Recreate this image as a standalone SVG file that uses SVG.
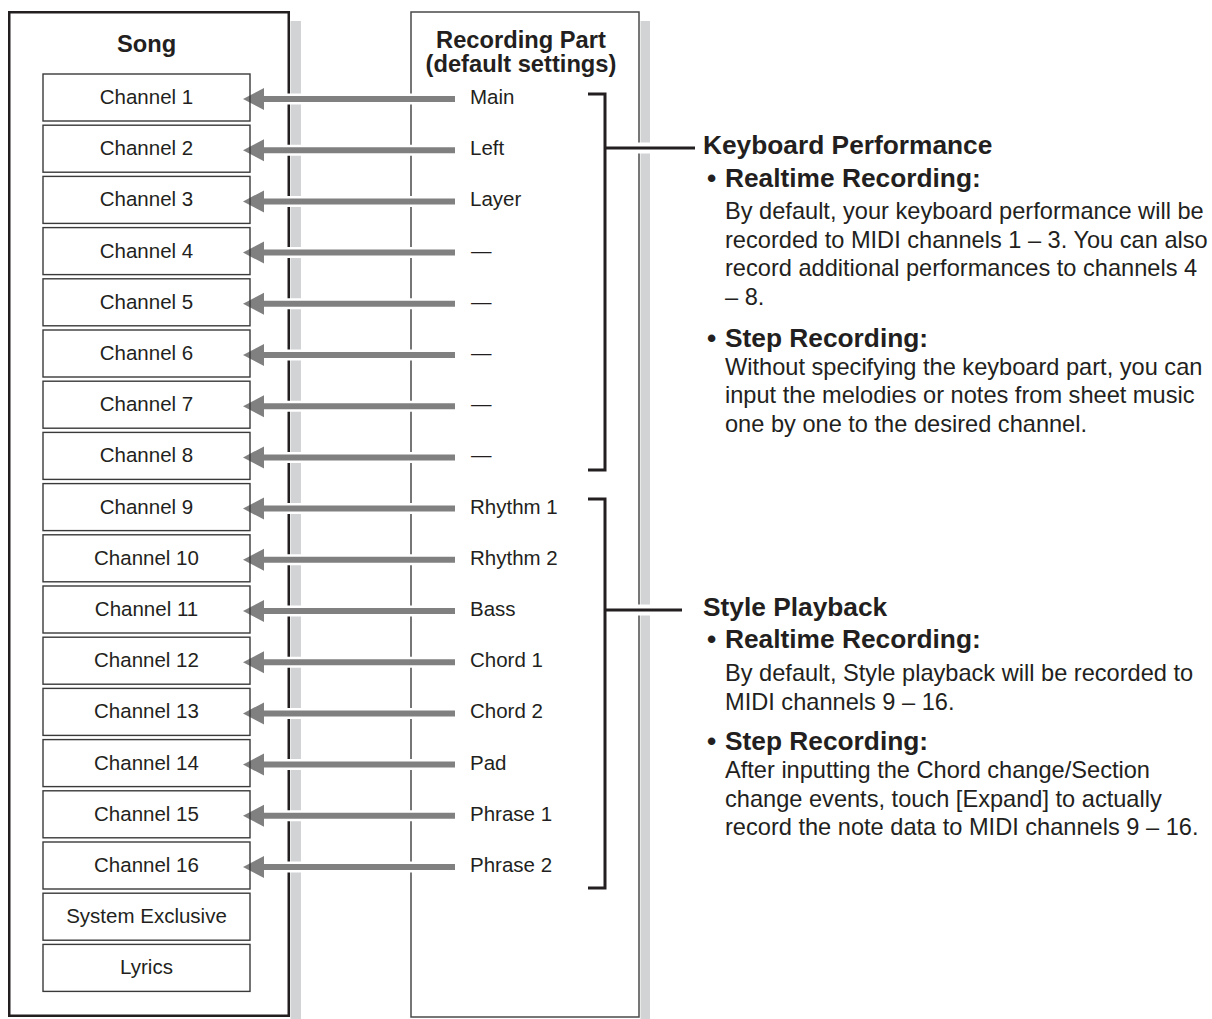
<svg xmlns="http://www.w3.org/2000/svg" width="1212" height="1019" viewBox="0 0 1212 1019">
<style>
.t{font-family:"Liberation Sans",Arial,Helvetica,sans-serif;fill:#231f20}
.ch{font-size:20.5px;text-anchor:middle}
.lbl{font-size:20.5px}
.title{font-size:23.7px;font-weight:bold;text-anchor:middle}
.head{font-size:26.3px;font-weight:bold}
.body{font-size:23.6px}
.cb{fill:none;stroke:#3a3a3a;stroke-width:1.4}
.halo{stroke:#fff;stroke-width:11}
.shaft{stroke:#808080;stroke-width:6}
.head-a{fill:#808080}
.br{fill:none;stroke:#231f20;stroke-width:3}
.shadow{fill:#d1d3d4}
</style>
<rect width="1212" height="1019" fill="#fff"/>
<g id="song">
<rect class="shadow" x="290.5" y="21" width="10.5" height="998"/>
<rect x="9.25" y="12.25" width="279.5" height="1003.5" fill="#fff" stroke="#231f20" stroke-width="2.5"/>
<text class="t title" x="146.5" y="52">Song</text>
</g>
<g id="recording-part">
<rect class="shadow" x="640.5" y="21" width="9.5" height="998"/>
<rect x="411" y="12" width="228" height="1005" fill="#fff" stroke="#4a4a4a" stroke-width="1.5"/>
<text class="t title" x="521" y="48">Recording Part</text>
<text class="t title" x="521" y="72">(default settings)</text>
</g>
<g id="connectors">
<g id="halos">
<line class="halo" x1="266" y1="99" x2="455" y2="99"/>
<line class="halo" x1="266" y1="150.2" x2="455" y2="150.2"/>
<line class="halo" x1="266" y1="201.4" x2="455" y2="201.4"/>
<line class="halo" x1="266" y1="252.6" x2="455" y2="252.6"/>
<line class="halo" x1="266" y1="303.8" x2="455" y2="303.8"/>
<line class="halo" x1="266" y1="355" x2="455" y2="355"/>
<line class="halo" x1="266" y1="406.2" x2="455" y2="406.2"/>
<line class="halo" x1="266" y1="457.4" x2="455" y2="457.4"/>
<line class="halo" x1="266" y1="508.6" x2="455" y2="508.6"/>
<line class="halo" x1="266" y1="559.8" x2="455" y2="559.8"/>
<line class="halo" x1="266" y1="611" x2="455" y2="611"/>
<line class="halo" x1="266" y1="662.2" x2="455" y2="662.2"/>
<line class="halo" x1="266" y1="713.4" x2="455" y2="713.4"/>
<line class="halo" x1="266" y1="764.6" x2="455" y2="764.6"/>
<line class="halo" x1="266" y1="815.8" x2="455" y2="815.8"/>
<line class="halo" x1="266" y1="867" x2="455" y2="867"/>
<line class="halo" x1="615" y1="148" x2="685" y2="148"/>
<line class="halo" x1="615" y1="610" x2="675" y2="610"/>
</g>
<g id="arrows">
<line class="shaft" x1="260" y1="99" x2="455" y2="99"/><polygon class="head-a" points="243,99 264,88 264,110"/>
<line class="shaft" x1="260" y1="150.2" x2="455" y2="150.2"/><polygon class="head-a" points="243,150.2 264,139.2 264,161.2"/>
<line class="shaft" x1="260" y1="201.4" x2="455" y2="201.4"/><polygon class="head-a" points="243,201.4 264,190.4 264,212.4"/>
<line class="shaft" x1="260" y1="252.6" x2="455" y2="252.6"/><polygon class="head-a" points="243,252.6 264,241.6 264,263.6"/>
<line class="shaft" x1="260" y1="303.8" x2="455" y2="303.8"/><polygon class="head-a" points="243,303.8 264,292.8 264,314.8"/>
<line class="shaft" x1="260" y1="355" x2="455" y2="355"/><polygon class="head-a" points="243,355 264,344 264,366"/>
<line class="shaft" x1="260" y1="406.2" x2="455" y2="406.2"/><polygon class="head-a" points="243,406.2 264,395.2 264,417.2"/>
<line class="shaft" x1="260" y1="457.4" x2="455" y2="457.4"/><polygon class="head-a" points="243,457.4 264,446.4 264,468.4"/>
<line class="shaft" x1="260" y1="508.6" x2="455" y2="508.6"/><polygon class="head-a" points="243,508.6 264,497.6 264,519.6"/>
<line class="shaft" x1="260" y1="559.8" x2="455" y2="559.8"/><polygon class="head-a" points="243,559.8 264,548.8 264,570.8"/>
<line class="shaft" x1="260" y1="611" x2="455" y2="611"/><polygon class="head-a" points="243,611 264,600 264,622"/>
<line class="shaft" x1="260" y1="662.2" x2="455" y2="662.2"/><polygon class="head-a" points="243,662.2 264,651.2 264,673.2"/>
<line class="shaft" x1="260" y1="713.4" x2="455" y2="713.4"/><polygon class="head-a" points="243,713.4 264,702.4 264,724.4"/>
<line class="shaft" x1="260" y1="764.6" x2="455" y2="764.6"/><polygon class="head-a" points="243,764.6 264,753.6 264,775.6"/>
<line class="shaft" x1="260" y1="815.8" x2="455" y2="815.8"/><polygon class="head-a" points="243,815.8 264,804.8 264,826.8"/>
<line class="shaft" x1="260" y1="867" x2="455" y2="867"/><polygon class="head-a" points="243,867 264,856 264,878"/>
</g>
<g id="brackets">
<path class="br" d="M588,94 H605 V470 H588 M605,148 H695"/>
<path class="br" d="M588,499 H605 V888 H588 M605,610 H682"/>
</g>
</g>
<g id="channels">
<g id="ch1"><rect class="cb" x="43" y="74" width="207" height="47"/><text class="t ch" x="146.5" y="104">Channel 1</text></g>
<g id="ch2"><rect class="cb" x="43" y="125.2" width="207" height="47"/><text class="t ch" x="146.5" y="155.2">Channel 2</text></g>
<g id="ch3"><rect class="cb" x="43" y="176.4" width="207" height="47"/><text class="t ch" x="146.5" y="206.4">Channel 3</text></g>
<g id="ch4"><rect class="cb" x="43" y="227.6" width="207" height="47"/><text class="t ch" x="146.5" y="257.6">Channel 4</text></g>
<g id="ch5"><rect class="cb" x="43" y="278.8" width="207" height="47"/><text class="t ch" x="146.5" y="308.8">Channel 5</text></g>
<g id="ch6"><rect class="cb" x="43" y="330" width="207" height="47"/><text class="t ch" x="146.5" y="360">Channel 6</text></g>
<g id="ch7"><rect class="cb" x="43" y="381.2" width="207" height="47"/><text class="t ch" x="146.5" y="411.2">Channel 7</text></g>
<g id="ch8"><rect class="cb" x="43" y="432.4" width="207" height="47"/><text class="t ch" x="146.5" y="462.4">Channel 8</text></g>
<g id="ch9"><rect class="cb" x="43" y="483.6" width="207" height="47"/><text class="t ch" x="146.5" y="513.6">Channel 9</text></g>
<g id="ch10"><rect class="cb" x="43" y="534.8" width="207" height="47"/><text class="t ch" x="146.5" y="564.8">Channel 10</text></g>
<g id="ch11"><rect class="cb" x="43" y="586" width="207" height="47"/><text class="t ch" x="146.5" y="616">Channel 11</text></g>
<g id="ch12"><rect class="cb" x="43" y="637.2" width="207" height="47"/><text class="t ch" x="146.5" y="667.2">Channel 12</text></g>
<g id="ch13"><rect class="cb" x="43" y="688.4" width="207" height="47"/><text class="t ch" x="146.5" y="718.4">Channel 13</text></g>
<g id="ch14"><rect class="cb" x="43" y="739.6" width="207" height="47"/><text class="t ch" x="146.5" y="769.6">Channel 14</text></g>
<g id="ch15"><rect class="cb" x="43" y="790.8" width="207" height="47"/><text class="t ch" x="146.5" y="820.8">Channel 15</text></g>
<g id="ch16"><rect class="cb" x="43" y="842" width="207" height="47"/><text class="t ch" x="146.5" y="872">Channel 16</text></g>
<g id="sysex"><rect class="cb" x="43" y="893.2" width="207" height="47"/><text class="t ch" x="146.5" y="923.2">System Exclusive</text></g>
<g id="lyrics"><rect class="cb" x="43" y="944.4" width="207" height="47"/><text class="t ch" x="146.5" y="974.4">Lyrics</text></g>
</g>
<g id="parts">
<text class="t lbl" x="470" y="104">Main</text>
<text class="t lbl" x="470" y="155.2">Left</text>
<text class="t lbl" x="470" y="206.4">Layer</text>
<text class="t lbl" x="471" y="257.6">—</text>
<text class="t lbl" x="471" y="308.8">—</text>
<text class="t lbl" x="471" y="360">—</text>
<text class="t lbl" x="471" y="411.2">—</text>
<text class="t lbl" x="471" y="462.4">—</text>
<text class="t lbl" x="470" y="513.6">Rhythm 1</text>
<text class="t lbl" x="470" y="564.8">Rhythm 2</text>
<text class="t lbl" x="470" y="616">Bass</text>
<text class="t lbl" x="470" y="667.2">Chord 1</text>
<text class="t lbl" x="470" y="718.4">Chord 2</text>
<text class="t lbl" x="470" y="769.6">Pad</text>
<text class="t lbl" x="470" y="820.8">Phrase 1</text>
<text class="t lbl" x="470" y="872">Phrase 2</text>
</g>
<g id="keyboard-performance">
<text class="t head" x="703" y="154">Keyboard Performance</text>
<text class="t head" x="707" y="187">•</text>
<text class="t head" x="725" y="187">Realtime Recording:</text>
<text class="t body" x="725" y="219">By default, your keyboard performance will be</text>
<text class="t body" x="725" y="247.5">recorded to MIDI channels 1 – 3. You can also</text>
<text class="t body" x="725" y="276">record additional performances to channels 4</text>
<text class="t body" x="725" y="304.5">– 8.</text>
<text class="t head" x="707" y="347">•</text>
<text class="t head" x="725" y="347">Step Recording:</text>
<text class="t body" x="725" y="374.5">Without specifying the keyboard part, you can</text>
<text class="t body" x="725" y="403">input the melodies or notes from sheet music</text>
<text class="t body" x="725" y="431.5">one by one to the desired channel.</text>
</g>
<g id="style-playback">
<text class="t head" x="703" y="616">Style Playback</text>
<text class="t head" x="707" y="648">•</text>
<text class="t head" x="725" y="648">Realtime Recording:</text>
<text class="t body" x="725" y="681">By default, Style playback will be recorded to</text>
<text class="t body" x="725" y="709.5">MIDI channels 9 – 16.</text>
<text class="t head" x="707" y="750">•</text>
<text class="t head" x="725" y="750">Step Recording:</text>
<text class="t body" x="725" y="778">After inputting the Chord change/Section</text>
<text class="t body" x="725" y="806.5">change events, touch [Expand] to actually</text>
<text class="t body" x="725" y="835">record the note data to MIDI channels 9 – 16.</text>
</g>
</svg>
